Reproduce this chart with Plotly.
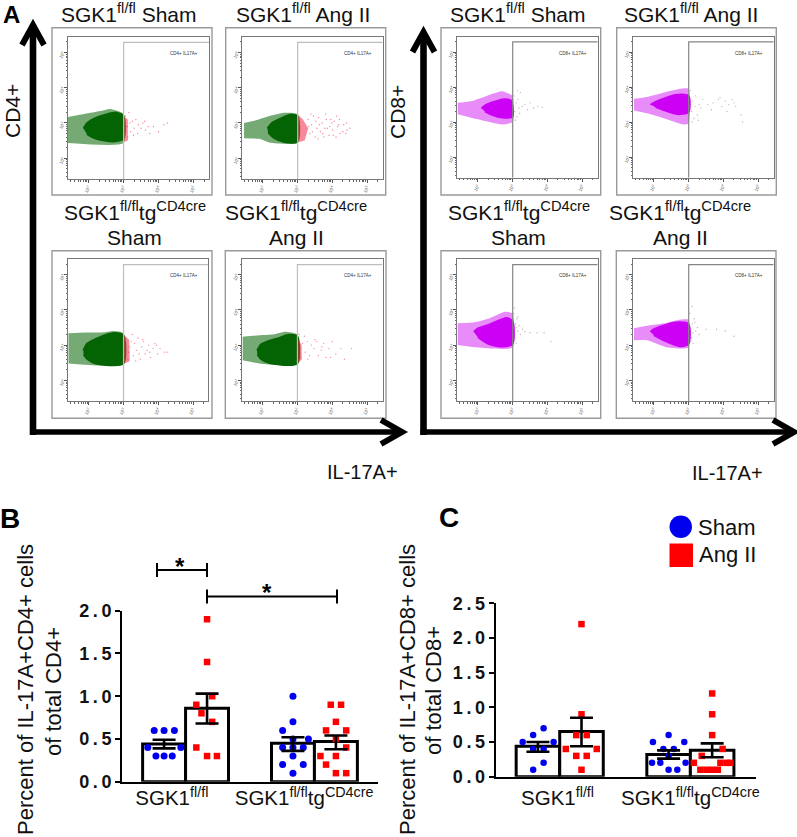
import plotly.graph_objects as go

# ---------- panels B and C data ----------
bar_x_sham = [0, 3]
bar_x_ang = [1, 4]
b_mean_sham = [0.44, 0.45]
b_mean_ang = [0.86, 0.47]
b_up_sham = [0.05, 0.07]
b_lo_sham = [0.05, 0.09]
b_up_ang = [0.17, 0.07]
b_lo_ang = [0.18, 0.09]
c_mean_sham = [0.44, 0.32]
c_mean_ang = [0.65, 0.38]
c_up_sham = [0.06, 0.06]
c_lo_sham = [0.08, 0.06]
c_up_ang = [0.20, 0.10]
c_lo_ang = [0.21, 0.10]

b_sham1_x = [-0.23, 0, 0.24, -0.38, 0.39, -0.19, 0, 0.19]
b_sham1_y = [0.6, 0.6, 0.6, 0.4, 0.4, 0.3, 0.3, 0.3]
b_ang1_x = [1, 1, 0.75, 1.12, 0.87, 1.12, 0.75, 1, 1.23]
b_ang1_y = [1.9, 1.4, 0.9, 1.0, 0.8, 0.7, 0.4, 0.3, 0.3]
b_sham2_x = [3, 3, 2.76, 3.36, 3, 2.76, 3.24, 3, 3, 2.76, 3.24, 3]
b_sham2_y = [1.0, 0.7, 0.6, 0.5, 0.5, 0.4, 0.4, 0.4, 0.3, 0.2, 0.2, 0.1]
b_ang2_x = [3.88, 4.12, 4, 3.77, 4.24, 4, 4.24, 3.64, 4, 3.77, 4, 4.24]
b_ang2_y = [0.9, 0.9, 0.7, 0.6, 0.6, 0.5, 0.4, 0.3, 0.3, 0.2, 0.1, 0.1]

c_sham1_x = [0.13, -0.11, -0.35, 0.36, -0.11, 0.13, 0.13, -0.11]
c_sham1_y = [0.7, 0.6, 0.5, 0.5, 0.4, 0.4, 0.2, 0.1]
c_ang1_x = [1, 1, 0.88, 1.12, 0.64, 1.35, 0.88, 1.12, 1]
c_ang1_y = [2.2, 0.9, 0.6, 0.6, 0.4, 0.4, 0.3, 0.3, 0.1]
c_sham2_x = [3, 2.64, 3.36, 2.88, 3.12, 3, 2.62, 2.81, 3.39, 3, 3.2]
c_sham2_y = [0.6, 0.5, 0.5, 0.4, 0.4, 0.3, 0.2, 0.2, 0.2, 0.1, 0.1]
c_ang2_x = [4, 4, 4, 4.24, 3.76, 3.58, 4.19, 4.33, 4.42, 3.73, 3.87, 4, 4.13]
c_ang2_y = [1.2, 0.9, 0.6, 0.4, 0.3, 0.2, 0.2, 0.2, 0.2, 0.1, 0.1, 0.1, 0.1]

b_ticks = [0, 0.5, 1, 1.5, 2]
b_ticklabels = ["0\u2009.\u20090", "0\u2009.\u20095", "1\u2009.\u20090", "1\u2009.\u20095", "2\u2009.\u20090"]
c_ticks = [0, 0.5, 1, 1.5, 2, 2.5]
c_ticklabels = b_ticklabels + ["2\u2009.\u20095"]
group_labels = ["SGK1<sup>fl/fl</sup>", "SGK1<sup>fl/fl</sup>tg<sup>CD4cre</sup>"]

# ---------- panel A flow data: population outlines and sparse events, in log10 units ----------
p1_outer_x = [1.41, 1.9, 2.33, 2.61, 2.84, 3, 3, 1.41]
p1_outer_y = [3.17, 3.26, 3.34, 3.4, 3.34, 3.26, 2.43, 2.43]
p1_inner_x = [1.85, 1.95, 2.2, 2.5, 2.8, 3, 3, 2.7, 2.2, 1.95]
p1_inner_y = [2.85, 3.0, 3.15, 3.25, 3.3, 3.2, 2.55, 2.47, 2.55, 2.68]
p1_ev_x = [3.05, 3.1, 3.12, 3.18, 3.2, 3.25, 3.3, 3.35, 3.42, 3.5, 3.55, 3.62, 3.7, 3.85, 4.0, 4.15, 4.25, 3.15, 3.28, 3.4, 3.6, 3.75]
p1_ev_y = [3.2, 2.9, 2.6, 3.0, 2.75, 3.05, 2.85, 3.1, 2.95, 2.85, 3.0, 2.8, 2.9, 2.9, 2.75, 2.95, 3.0, 3.3, 2.65, 2.7, 3.05, 2.7]
p1_edge_x = [3, 3.12, 3.12, 3]
p1_edge_y = [3.2, 3.1, 2.5, 2.45]

p2_outer_x = [1.46, 1.8, 2.2, 2.6, 2.8, 3, 3, 2.2, 1.9, 1.46]
p2_outer_y = [3.0, 3.08, 3.2, 3.29, 3.29, 3.24, 2.44, 2.44, 2.55, 2.57]
p2_inner_x = [2.13, 2.25, 2.5, 2.8, 3, 3, 2.6, 2.3, 2.15]
p2_inner_y = [2.85, 3.0, 3.13, 3.24, 3.2, 2.47, 2.46, 2.58, 2.72]
p2_ev_x = [3.3, 3.35, 3.4, 3.45, 3.5, 3.55, 3.6, 3.65, 3.7, 3.75, 3.8, 3.85, 3.9, 3.95, 4.0, 4.05, 4.1, 4.15, 4.2, 4.3, 4.4, 4.5, 3.32, 3.42, 3.52, 3.62, 3.72, 3.82, 3.92, 4.02, 4.12, 4.22, 4.32, 4.42, 3.38, 3.58, 3.78, 3.98, 4.18, 4.38]
p2_ev_y = [3.1, 2.7, 2.95, 3.2, 2.6, 2.85, 3.15, 2.75, 3.0, 2.6, 3.25, 2.85, 2.65, 3.1, 2.8, 3.05, 2.6, 2.9, 3.1, 2.75, 3.0, 2.85, 2.9, 2.75, 3.05, 2.95, 2.7, 3.1, 2.9, 2.65, 3.2, 2.7, 2.95, 2.8, 3.25, 2.55, 2.85, 3.0, 2.95, 2.7]
p2_edge_x = [3, 3.15, 3.3, 3.2, 3]
p2_edge_y = [3.25, 3.1, 2.85, 2.5, 2.45]

p3_outer_x = [1.41, 1.9, 2.4, 2.7, 3, 3, 1.41]
p3_outer_y = [3.34, 3.36, 3.36, 3.4, 3.34, 2.46, 2.48]
p3_inner_x = [1.84, 1.95, 2.2, 2.5, 2.75, 3, 3, 2.2, 1.95, 1.85]
p3_inner_y = [2.85, 3.05, 3.18, 3.3, 3.35, 3.28, 2.47, 2.47, 2.6, 2.72]
p3_ev_x = [3.05, 3.12, 3.18, 3.22, 3.28, 3.32, 3.38, 3.42, 3.48, 3.52, 3.58, 3.62, 3.68, 3.72, 3.78, 3.85, 3.9, 3.98, 4.05, 4.18, 4.25, 3.15, 3.25, 3.45, 3.55, 3.75, 3.95, 3.35]
p3_ev_y = [3.2, 2.6, 2.95, 3.1, 2.7, 3.05, 2.85, 3.2, 2.6, 2.95, 3.1, 2.75, 2.85, 3.0, 2.65, 2.9, 3.05, 2.75, 2.9, 2.8, 2.8, 2.8, 3.3, 2.75, 3.15, 2.8, 3.0, 2.55]
p3_edge_x = [3, 3.16, 3.18, 3]
p3_edge_y = [3.3, 3.15, 2.55, 2.46]

p4_outer_x = [1.43, 1.9, 2.3, 2.65, 3, 3, 2.0, 1.43]
p4_outer_y = [3.24, 3.28, 3.3, 3.38, 3.3, 2.46, 2.46, 2.57]
p4_inner_x = [1.84, 1.95, 2.2, 2.5, 2.75, 3, 3, 2.2, 1.95, 1.85]
p4_inner_y = [2.85, 3.02, 3.13, 3.22, 3.3, 3.25, 2.47, 2.48, 2.6, 2.72]
p4_ev_x = [3.05, 3.1, 3.15, 3.22, 3.28, 3.35, 3.4, 3.48, 3.55, 3.6, 3.68, 3.75, 3.82, 3.9, 4.0, 4.1, 4.25, 4.35, 4.55, 3.2, 3.3, 3.5, 3.7, 3.95]
p4_ev_y = [3.3, 2.65, 3.05, 2.8, 3.1, 2.7, 3.0, 2.9, 3.1, 2.7, 2.85, 3.05, 2.65, 2.9, 3.1, 2.75, 2.9, 2.6, 2.9, 3.25, 2.6, 3.15, 2.95, 2.65]
p4_edge_x = [3, 3.12, 3.12, 3]
p4_edge_y = [3.2, 3.0, 2.6, 2.46]

p5_outer_x = [1.42, 1.9, 2.4, 2.7, 3, 3, 2.7, 2.2, 1.8, 1.42]
p5_outer_y = [3.55, 3.62, 3.8, 3.88, 3.74, 3.0, 2.93, 3.03, 3.12, 3.22]
p5_inner_x = [2.1, 2.2, 2.45, 2.75, 2.95, 3, 3, 2.7, 2.4, 2.2]
p5_inner_y = [3.4, 3.48, 3.58, 3.66, 3.62, 3.45, 3.15, 3.12, 3.2, 3.3]
p5_ev_x = [3.03, 3.06, 3.1, 3.12, 3.15, 3.18, 3.22, 3.28, 3.35, 3.42, 3.5, 3.6, 3.72, 3.85, 3.08, 3.14, 3.2]
p5_ev_y = [3.75, 3.3, 3.55, 3.15, 3.65, 3.4, 3.85, 3.45, 3.5, 3.35, 3.55, 3.4, 3.45, 3.42, 3.05, 3.9, 3.25]

p6_outer_x = [1.43, 1.8, 2.2, 2.76, 3, 3, 2.86, 2.19, 1.8, 1.43]
p6_outer_y = [3.67, 3.72, 3.82, 3.95, 3.95, 2.95, 2.93, 3.14, 3.25, 3.33]
p6_inner_x = [1.9, 2.05, 2.3, 2.62, 3, 3, 2.67, 2.3, 2.05]
p6_inner_y = [3.5, 3.58, 3.68, 3.78, 3.75, 3.28, 3.22, 3.33, 3.42]
p6_ev_x = [3.05, 3.08, 3.12, 3.15, 3.2, 3.25, 3.3, 3.35, 3.4, 3.1, 3.18, 3.28, 3.55, 3.7, 3.85, 3.95, 4.05, 4.15, 4.25, 4.35, 4.5, 4.55, 3.65, 3.9, 4.1, 4.3]
p6_ev_y = [3.9, 3.3, 3.6, 3.1, 3.75, 3.2, 3.5, 3.4, 3.65, 3.0, 3.45, 3.05, 3.5, 3.55, 3.65, 3.45, 3.6, 3.5, 3.65, 3.45, 3.2, 3.0, 3.35, 3.7, 3.3, 3.55]

p7_outer_x = [1.42, 1.9, 2.3, 2.78, 3, 3, 2.0, 1.42]
p7_outer_y = [3.62, 3.65, 3.75, 3.95, 3.9, 2.93, 2.93, 3.0]
p7_inner_x = [1.88, 2.0, 2.3, 2.83, 3, 3, 2.7, 2.3, 2.0]
p7_inner_y = [3.38, 3.48, 3.58, 3.78, 3.68, 3.03, 2.95, 3.03, 3.22]
p7_ev_x = [3.03, 3.06, 3.08, 3.1, 3.12, 3.15, 3.18, 3.22, 3.28, 3.35, 3.5, 3.7, 3.9, 4.1, 3.05, 3.1, 3.15]
p7_ev_y = [3.9, 3.2, 3.6, 3.05, 3.75, 3.4, 3.55, 3.3, 3.45, 3.38, 3.35, 3.35, 3.35, 3.1, 4.05, 3.5, 3.8]

p8_outer_x = [1.43, 1.81, 2.3, 2.67, 3, 3, 2.4, 1.81, 1.43]
p8_outer_y = [3.48, 3.55, 3.62, 3.71, 3.72, 2.93, 2.93, 3.14, 3.14]
p8_inner_x = [1.9, 2.0, 2.25, 2.62, 3, 3, 2.75, 2.3, 2.0]
p8_inner_y = [3.38, 3.46, 3.55, 3.65, 3.6, 3.03, 2.96, 3.12, 3.28]
p8_ev_x = [3.03, 3.06, 3.1, 3.12, 3.15, 3.2, 3.25, 3.3, 3.08, 3.13, 3.18, 3.5, 3.8, 4.05, 4.3, 3.1]
p8_ev_y = [3.9, 3.1, 3.6, 3.35, 3.75, 3.4, 3.5, 3.3, 3.2, 3.05, 3.65, 3.45, 3.45, 3.4, 3.25, 4.1]

decade_ticks = [2, 3, 4, 5]
decade_labels = ["10<sup>2</sup>", "10<sup>3</sup>", "10<sup>4</sup>", "10<sup>5</sup>"]
minor_ticks = [1.48, 1.6, 1.7, 1.78, 1.85, 1.9, 1.95, 2.3, 2.48, 2.6, 2.7, 2.78, 2.85, 2.9, 2.95,
               3.3, 3.48, 3.6, 3.7, 3.78, 3.85, 3.9, 3.95, 4.3, 4.48, 4.6, 4.7, 4.78, 4.85, 4.9, 4.95, 5.3]

W, H = 797, 837
FONT = "Liberation Sans"
GREEN = "#046404"
MAGENTA = "#cc00f5"
RED = "#ff0000"
BLUE = "#0000ee"
HALO_GREEN = "rgba(4,100,4,0.55)"
HALO_MAG = "rgba(204,0,245,0.45)"

def px(x):
    return x / W

def py(y):
    return 1 - y / H

fig = go.Figure()
layout = dict(
    width=W, height=H, autosize=False, margin=dict(l=0, r=0, t=0, b=0, autoexpand=False),
    paper_bgcolor="white", plot_bgcolor="rgba(0,0,0,0)", showlegend=False, barmode="overlay",
    font=dict(family=FONT, color="black"),
)
shapes, annotations = [], []

def text(x, y, s, size=21, angle=0, bold=False, color="#111"):
    annotations.append(dict(
        x=px(x), y=py(y), xref="paper", yref="paper", text=f"<b>{s}</b>" if bold else s, showarrow=False,
        font=dict(size=size, family=FONT, color=color), textangle=angle, xanchor="center", yanchor="middle",
    ))

# ---------- flow panels ----------
def flow_panel(i, frame, box, outer, inner, ev, edge, color, halo, evcolor, gatecolor, label):
    fx0, fy0, fx1, fy1 = frame
    bx0, by0, bx1, by1 = box
    shapes.append(dict(type="rect", xref="paper", yref="paper", x0=px(fx0), x1=px(fx1), y0=py(fy0), y1=py(fy1),
                       line=dict(color="#9a9a9a", width=1.4), fillcolor="white", layer="below"))
    xa, ya = f"x{i}", f"y{i}"
    common = dict(
        showgrid=False, zeroline=False, showline=True, linecolor="#777", linewidth=1, mirror=True,
        ticks="outside", ticklen=3, tickwidth=0.7, tickcolor="#555", tickvals=decade_ticks, ticktext=decade_labels,
        tickfont=dict(size=4.5, color="#555", family=FONT), tickangle=-60, range=[1.41, 5.44],
        minor=dict(tickvals=minor_ticks, ticks="outside", ticklen=1.5, tickwidth=0.5, tickcolor="#666"),
    )
    layout[f"xaxis{i}"] = dict(domain=[px(bx0), px(bx1)], anchor=ya, **common)
    layout[f"yaxis{i}"] = dict(domain=[py(by1), py(by0)], anchor=xa, **common)
    fig.add_trace(go.Scatter(x=outer[0], y=outer[1], fill="toself", mode="lines", xaxis=xa, yaxis=ya, fillcolor=halo,
                             line=dict(width=0, shape="spline", smoothing=0.5)))
    fig.add_trace(go.Scatter(x=inner[0], y=inner[1], fill="toself", mode="lines", xaxis=xa, yaxis=ya,
                             fillcolor=color, line=dict(color=color, width=1.5, shape="spline", smoothing=0.7)))
    if edge:
        fig.add_trace(go.Scatter(x=edge[0], y=edge[1], fill="toself", mode="none", xaxis=xa, yaxis=ya,
                                 fillcolor=evcolor.replace("1)", "0.55)")))
    fig.add_trace(go.Scatter(x=ev[0], y=ev[1], mode="markers", xaxis=xa, yaxis=ya,
                             marker=dict(size=1.4, color=evcolor, opacity=0.55, line=dict(width=0))))
    shapes.append(dict(type="path", xref=xa, yref=ya, path="M 3 1.41 L 3 5.29 L 5.44 5.29",
                       line=dict(color=gatecolor, width=1.2)))
    annotations.append(dict(x=4.73, y=4.97, xref=xa, yref=ya, text=label, showarrow=False,
                            font=dict(size=4.5, color="#333", family=FONT)))

EV_RED = "rgba(240,40,70,1)"
EV_GREY = "rgba(130,130,130,1)"
GATE_CD4 = "#bdbdbd"
GATE_CD8 = "#858585"
fy_top = (27.7, 195)
fy_bot = (250.7, 418.3)
flow_panel(3, (52, fy_top[0], 212, fy_top[1]), (68, 37, 209, 179), (p1_outer_x, p1_outer_y), (p1_inner_x, p1_inner_y),
           (p1_ev_x, p1_ev_y), (p1_edge_x, p1_edge_y), GREEN, HALO_GREEN, EV_RED, GATE_CD4, "CD4+ IL17A+")
flow_panel(4, (225.7, fy_top[0], 385.7, fy_top[1]), (242.3, 37, 382.7, 179), (p2_outer_x, p2_outer_y), (p2_inner_x, p2_inner_y),
           (p2_ev_x, p2_ev_y), (p2_edge_x, p2_edge_y), GREEN, HALO_GREEN, EV_RED, GATE_CD4, "CD4+ IL17A+")
flow_panel(5, (52, fy_bot[0], 212, fy_bot[1]), (68.3, 259.3, 208.3, 401), (p3_outer_x, p3_outer_y), (p3_inner_x, p3_inner_y),
           (p3_ev_x, p3_ev_y), (p3_edge_x, p3_edge_y), GREEN, HALO_GREEN, EV_RED, GATE_CD4, "CD4+ IL17A+")
flow_panel(6, (225.3, fy_bot[0], 386, fy_bot[1]), (242, 259.3, 382.5, 401), (p4_outer_x, p4_outer_y), (p4_inner_x, p4_inner_y),
           (p4_ev_x, p4_ev_y), (p4_edge_x, p4_edge_y), GREEN, HALO_GREEN, EV_RED, GATE_CD4, "CD4+ IL17A+")
flow_panel(7, (441, fy_top[0], 600.7, fy_top[1]), (457.3, 36.7, 597.7, 177.7), (p5_outer_x, p5_outer_y), (p5_inner_x, p5_inner_y),
           (p5_ev_x, p5_ev_y), None, MAGENTA, HALO_MAG, EV_GREY, GATE_CD8, "CD8+ IL17A+")
flow_panel(8, (616.7, fy_top[0], 776.3, fy_top[1]), (633.3, 36.7, 773.7, 177.7), (p6_outer_x, p6_outer_y), (p6_inner_x, p6_inner_y),
           (p6_ev_x, p6_ev_y), None, MAGENTA, HALO_MAG, EV_GREY, GATE_CD8, "CD8+ IL17A+")
flow_panel(9, (441, fy_bot[0], 600.7, fy_bot[1]), (457.3, 259.3, 597.7, 401), (p7_outer_x, p7_outer_y), (p7_inner_x, p7_inner_y),
           (p7_ev_x, p7_ev_y), None, MAGENTA, HALO_MAG, EV_GREY, GATE_CD8, "CD8+ IL17A+")
flow_panel(10, (616.3, fy_bot[0], 776, fy_bot[1]), (633.3, 259.3, 773.7, 401), (p8_outer_x, p8_outer_y), (p8_inner_x, p8_inner_y),
           (p8_ev_x, p8_ev_y), None, MAGENTA, HALO_MAG, EV_GREY, GATE_CD8, "CD8+ IL17A+")

# ---------- bar panels ----------
label_pos_standoff = {1: -3, 2: 2}

def bar_panel(i, dom_x, dom_y, rng_x, rng_y, means, ups, los, dots, ticks, ticklabels, label_pos):
    xa, ya = ("x", "y") if i == 1 else (f"x{i}", f"y{i}")
    xk, yk = ("xaxis", "yaxis") if i == 1 else (f"xaxis{i}", f"yaxis{i}")
    layout[xk] = dict(domain=[px(dom_x[0]), px(dom_x[1])], anchor=ya, range=rng_x, showgrid=False, zeroline=False,
                      showline=True, linecolor="black", linewidth=2, ticks="", tickvals=label_pos, ticktext=group_labels,
                      tickfont=dict(size=20.5, family=FONT, color="#111"), ticklabelstandoff=label_pos_standoff[i])
    layout[yk] = dict(domain=[py(dom_y[0]), py(dom_y[1])], anchor=xa, range=rng_y, showgrid=False, zeroline=False,
                      showline=True, linecolor="black", linewidth=2, ticks="outside", ticklen=5, tickwidth=2,
                      tickcolor="black", tickvals=ticks, ticktext=ticklabels,
                      tickfont=dict(size=18, family=FONT + ", sans-serif", color="#111", weight="bold"))
    for xs, m in zip((bar_x_sham, bar_x_ang), means):
        fig.add_trace(go.Bar(x=xs, y=m, width=1, xaxis=xa, yaxis=ya, marker=dict(color="white", line=dict(color="black", width=3))))
    for (dx, dy), sym, col, size in dots:
        fig.add_trace(go.Scatter(x=dx, y=dy, mode="markers", xaxis=xa, yaxis=ya, cliponaxis=False,
                                 marker=dict(symbol=sym, color=col, size=size, line=dict(width=0))))
    for xs, m, u, l in zip((bar_x_sham, bar_x_ang), means, ups, los):
        fig.add_trace(go.Scatter(x=xs, y=m, mode="markers", xaxis=xa, yaxis=ya, marker=dict(size=1, color="black", opacity=0),
                                 error_y=dict(type="data", array=u, arrayminus=l, color="black", thickness=2.6, width=11.5)))

bar_panel(1, (122, 378), (781.7, 610.7), [-0.98, 4.98], [0, 2],
          (b_mean_sham, b_mean_ang), (b_up_sham, b_up_ang), (b_lo_sham, b_lo_ang),
          [((b_sham1_x, b_sham1_y), "circle", BLUE, 7), ((b_ang1_x, b_ang1_y), "square", RED, 6.5),
           ((b_sham2_x, b_sham2_y), "circle", BLUE, 7), ((b_ang2_x, b_ang2_y), "square", RED, 6.5)],
          b_ticks, b_ticklabels, [0.18, 3.26])
bar_panel(2, (495.7, 755.7), (776.7, 603.3), [-0.97, 5.0], [0, 2.5],
          (c_mean_sham, c_mean_ang), (c_up_sham, c_up_ang), (c_lo_sham, c_lo_ang),
          [((c_sham1_x, c_sham1_y), "circle", BLUE, 6.5), ((c_ang1_x, c_ang1_y), "square", RED, 6.5),
           ((c_sham2_x, c_sham2_y), "circle", BLUE, 6.5), ((c_ang2_x, c_ang2_y), "square", RED, 6.5)],
          c_ticks, c_ticklabels, [0.45, 3.5])

# ---------- significance brackets ----------
def bracket(x0, x1, y, star_x, star_y):
    for a, b, c, d in ((x0, y, x1, y), (x0, y - 7, x0, y + 7), (x1, y - 7, x1, y + 7)):
        shapes.append(dict(type="line", xref="paper", yref="paper", x0=px(a), y0=py(b), x1=px(c), y1=py(d),
                           line=dict(color="black", width=2)))
    text(star_x, star_y, "*", size=24, bold=True, color="black")

bracket(157, 207, 570, 180, 566)
bracket(207, 337, 596.5, 267, 592)

# ---------- big axis arrows ----------
def big_arrow(x_vert, y_tip, y_corner, x_corner_left, x_tip, y_horiz, head_v, head_h):
    lw_v, lw_h = 6.6, 5.5
    def seg(path, w):
        shapes.append(dict(type="path", xref="paper", yref="paper", path=path, line=dict(color="black", width=w)))
    seg(f"M {px(x_vert)} {py(y_tip)} L {px(x_vert)} {py(y_corner)}", lw_v)
    seg(f"M {px(x_corner_left)} {py(y_horiz)} L {px(x_tip)} {py(y_horiz)}", lw_h)
    seg(f"M {px(x_vert - head_v[0])} {py(y_tip + head_v[1])} L {px(x_vert)} {py(y_tip)} L {px(x_vert + head_v[0])} {py(y_tip + head_v[1])}", 6)
    seg(f"M {px(x_tip - head_h[0])} {py(y_horiz - head_h[1])} L {px(x_tip)} {py(y_horiz)} L {px(x_tip - head_h[0])} {py(y_horiz + head_h[1])}", 6)

big_arrow(33, 25, 435, 30, 402, 432, (11, 20), (21, 12))
big_arrow(423.5, 32, 435, 420.5, 794, 432, (11, 20), (21, 12))

# ---------- text ----------
top_sham = "SGK1<sup>fl/fl</sup> Sham"
top_ang = "SGK1<sup>fl/fl</sup> Ang II"
tg = "SGK1<sup>fl/fl</sup>tg<sup>CD4cre</sup>"
for x in (129, 518):
    text(x, 13, top_sham)
for x in (303, 691):
    text(x, 13, top_ang)
for x in (135, 296, 518.7, 680):
    text(x, 211, tg)
for x, s in ((134.5, "Sham"), (296, "Ang II"), (518.7, "Sham"), (680, "Ang II")):
    text(x, 238, s)
text(12, 111, "CD4+", angle=-90)
text(398, 112, "CD8+", angle=-90)
text(362.5, 472, "IL-17A+", size=20)
text(727, 473, "IL-17A+", size=20)
text(11, 15, "A", size=24, bold=True, color="black")
text(10, 518, "B", size=28, bold=True, color="black")
text(449, 517, "C", size=28, bold=True, color="black")
text(25, 690, "Percent of IL-17A+CD4+ cells", size=22, angle=-90)
text(53, 691, "of total CD4+", size=22, angle=-90)
text(407, 689, "Percent of IL-17A+CD8+ cells", size=22, angle=-90)
text(433, 691, "of total CD8+", size=22, angle=-90)

# legend
shapes.append(dict(type="circle", xref="paper", yref="paper", x0=px(669.5), x1=px(692), y0=py(515.5), y1=py(538),
                   fillcolor="#0000ee", line=dict(width=0)))
shapes.append(dict(type="rect", xref="paper", yref="paper", x0=px(669.5), x1=px(693), y0=py(543.5), y1=py(567),
                   fillcolor="#ff0000", line=dict(width=0)))
text(726, 527, "Sham", size=22)
text(727, 554, "Ang II", size=22)

layout["shapes"] = shapes
layout["annotations"] = annotations
fig.update_layout(**layout)
fig.write_html("out.html", config=dict(displayModeBar=False), post_script="document.body.style.margin='0';")
